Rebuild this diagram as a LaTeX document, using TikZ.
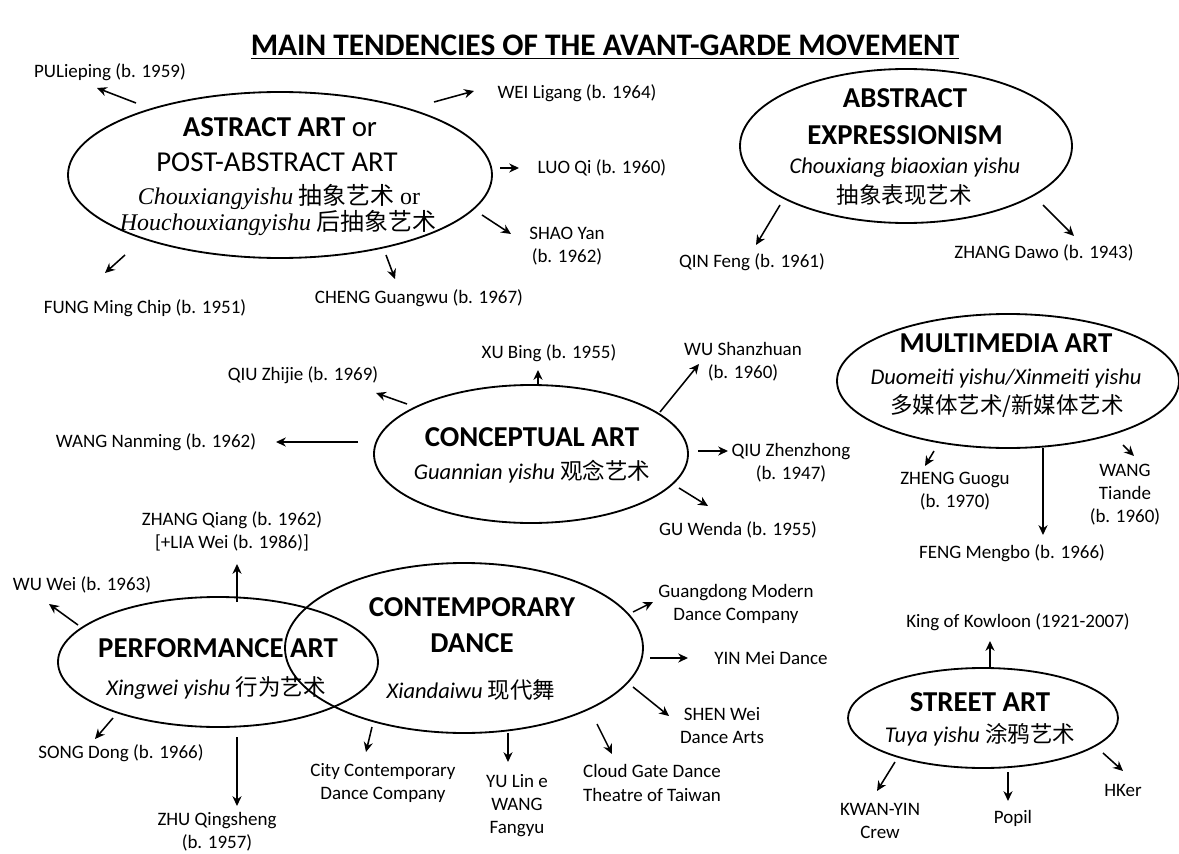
\documentclass[tikz,border=0pt]{standalone}
\usepackage{fontspec}
\setmainfont{Carlito}
\newfontfamily\cjk{Noto Sans CJK SC}
\newfontfamily\tms{Liberation Serif}
\usetikzlibrary{shapes.geometric,arrows.meta}
\begin{document}
\begin{tikzpicture}[x=0.025cm,y=-0.025cm,
  oval/.style={draw, ellipse, line width=1.3pt, inner sep=0pt, outer sep=0pt},
  lab/.style={font=\fontsize{13.5}{16.4}\selectfont, align=center, inner sep=0pt},
  big/.style={font=\fontsize{20.5}{25}\selectfont\bfseries, inner sep=0pt},
  bigr/.style={font=\fontsize{20.5}{25}\selectfont, inner sep=0pt},
  sub/.style={font=\fontsize{16}{19}\selectfont, inner sep=0pt},
  tsub/.style={font=\fontsize{17}{19}\selectfont, inner sep=0pt},
  arr/.style={-{Stealth[length=7pt,width=6.5pt]}, line width=1.1pt}]
\useasboundingbox (0,0) rectangle (1179,854);
% title
\node[inner sep=0pt, font=\fontsize{22.3}{26}\selectfont\bfseries] (title) at (605,47) {\underline{MAIN TENDENCIES OF THE AVANT-GARDE MOVEMENT}};
% ellipses
\node[oval, minimum width=424*0.025cm, minimum height=166*0.025cm] (ast) at (280,175) {};
\node[oval, minimum width=332*0.025cm, minimum height=154*0.025cm] (abx) at (906,146) {};
\node[oval, minimum width=314*0.025cm, minimum height=138*0.025cm] (con) at (531,454) {};
\node[oval, minimum width=342*0.025cm, minimum height=134*0.025cm] (mm) at (1008,381) {};
\node[oval, minimum width=320*0.025cm, minimum height=130*0.025cm] (perf) at (218,662) {};
\node[oval, minimum width=358*0.025cm, minimum height=170*0.025cm] (cd) at (464,648) {};
\node[oval, minimum width=270*0.025cm, minimum height=100*0.025cm] (st) at (983,718) {};
% ellipse texts
\node[big] (ast1) at (280,127) {ASTRACT ART {\mdseries or}};
\node[bigr] (ast2) at (277,162) {POST-ABSTRACT ART};
\node[tsub] (ast3) at (279,197) {{\tms\itshape Chouxiangyishu} {\cjk 抽象艺术}{\tms\ or}};
\node[tsub] (ast4) at (278,223) {{\tms\itshape Houchouxiangyishu} {\cjk 后抽象艺术}};
\node[big] (abx1) at (905,98) {ABSTRACT};
\node[big] (abx2) at (905,135) {EXPRESSIONISM};
\node[sub] (abx3) at (905,168) {\itshape Chouxiang biaoxian yishu};
\node[sub] (abx4) at (904,195) {\cjk 抽象表现艺术};
\node[big] (con1) at (532,437) {CONCEPTUAL ART};
\node[sub] (con2) at (532,472) {{\itshape Guannian yishu} {\cjk 观念艺术}};
\node[big] (mm1) at (1006,343) {MULTIMEDIA ART};
\node[sub] (mm2) at (1006,378) {\itshape Duomeiti yishu/Xinmeiti yishu};
\node[sub] (mm3) at (1007,406) {\cjk 多媒体艺术/新媒体艺术};
\node[big] (perf1) at (218,648) {PERFORMANCE ART};
\node[sub] (perf2) at (216,688) {{\itshape Xingwei yishu} {\cjk 行为艺术}};
\node[big] (cd1) at (472,607) {CONTEMPORARY};
\node[big] (cd2) at (472,643) {DANCE};
\node[sub] (cd3) at (471,690) {{\itshape Xiandaiwu} {\cjk 现代舞}};
\node[big] (st1) at (980,702) {STREET ART};
\node[sub] (st2) at (980,735) {{\itshape Tuya yishu} {\cjk 涂鸦艺术}};
% labels
\node[lab] (pu) at (110,72) {PULieping (b. 1959)};
\node[lab] (wei) at (577,93) {WEI Ligang (b. 1964)};
\node[lab] (luo) at (602,168) {LUO Qi (b. 1960)};
\node[lab] (shao) at (567,246) {SHAO Yan\\(b. 1962)};
\node[lab] (cheng) at (419,298) {CHENG Guangwu (b. 1967)};
\node[lab] (fung) at (145,308) {FUNG Ming Chip (b. 1951)};
\node[lab] (qin) at (752,262) {QIN Feng (b. 1961)};
\node[lab] (zdawo) at (1044,253) {ZHANG Dawo (b. 1943)};
\node[lab] (xu) at (549,353) {XU Bing (b. 1955)};
\node[lab] (qzj) at (303,375) {QIU Zhijie (b. 1969)};
\node[lab] (wnm) at (156,442) {WANG Nanming (b. 1962)};
\node[lab] (wsz) at (743,362) {WU Shanzhuan\\(b. 1960)};
\node[lab] (qzz) at (791,463) {QIU Zhenzhong\\(b. 1947)};
\node[lab] (gu) at (738,530) {GU Wenda (b. 1955)};
\node[lab] (zheng) at (955,491) {ZHENG Guogu\\(b. 1970)};
\node[lab] (wtd) at (1125,495) {WANG\\Tiande\\(b. 1960)};
\node[lab] (feng) at (1012,553) {FENG Mengbo (b. 1966)};
\node[lab] (zq) at (232,531) {ZHANG Qiang (b. 1962)\\{}[+LIA Wei (b. 1986)]};
\node[lab] (wuwei) at (82,585) {WU Wei (b. 1963)};
\node[lab] (song) at (121,753) {SONG Dong (b. 1966)};
\node[lab] (zhu) at (217,832) {ZHU Qingsheng\\(b. 1957)};
\node[lab] (gd) at (736,604) {Guangdong Modern\\Dance Company};
\node[lab] (yin) at (771,658) {YIN Mei Dance};
\node[lab] (shen) at (722,726) {SHEN Wei\\Dance Arts};
\node[lab] (cloud) at (652,783) {Cloud Gate Dance\\Theatre of Taiwan};
\node[lab] (yu) at (517,806) {YU Lin e\\WANG\\Fangyu};
\node[lab] (city) at (383,783) {City Contemporary\\Dance Company};
\node[lab] (king) at (1018,622) {King of Kowloon (1921-2007)};
\node[lab] (kwan) at (880,821) {KWAN-YIN\\Crew};
\node[lab] (popil) at (1013,818) {Popil};
\node[lab] (hker) at (1123,790) {HKer};
% arrow end points
\coordinate (a1s) at (136,103); \coordinate (a1e) at (97,88);
\coordinate (a2s) at (434,102); \coordinate (a2e) at (474,91);
\coordinate (a3s) at (500,168); \coordinate (a3e) at (519,168);
\coordinate (a4s) at (482,215); \coordinate (a4e) at (511,234);
\coordinate (a5s) at (386,255); \coordinate (a5e) at (395,279);
\coordinate (a6s) at (125,255); \coordinate (a6e) at (105,273);
\coordinate (b1s) at (780,205); \coordinate (b1e) at (756,245);
\coordinate (b2s) at (1043,205); \coordinate (b2e) at (1074,236);
\coordinate (c1s) at (538,384); \coordinate (c1e) at (538,370);
\coordinate (c2s) at (407,404); \coordinate (c2e) at (376,393);
\coordinate (c3s) at (358,442); \coordinate (c3e) at (276,442);
\coordinate (c4s) at (660,412); \coordinate (c4e) at (699,364);
\coordinate (c5s) at (698,451); \coordinate (c5e) at (728,451);
\coordinate (c6s) at (679,488); \coordinate (c6e) at (708,506);
\coordinate (m1s) at (934,451); \coordinate (m1e) at (925,466);
\coordinate (m2s) at (1123,445); \coordinate (m2e) at (1134,456);
\coordinate (m3s) at (1043,448); \coordinate (m3e) at (1043,535);
\coordinate (p1s) at (237,602); \coordinate (p1e) at (237,564);
\coordinate (p2s) at (78,625); \coordinate (p2e) at (49,604);
\coordinate (p3s) at (113,718); \coordinate (p3e) at (95,739);
\coordinate (p4s) at (237,737); \coordinate (p4e) at (237,806);
\coordinate (d1s) at (633,612); \coordinate (d1e) at (653,602);
\coordinate (d2s) at (650,658); \coordinate (d2e) at (688,658);
\coordinate (d3s) at (633,687); \coordinate (d3e) at (669,716);
\coordinate (d4s) at (597,724); \coordinate (d4e) at (612,754);
\coordinate (d5s) at (508,733); \coordinate (d5e) at (508,762);
\coordinate (d6s) at (372,727); \coordinate (d6e) at (366,752);
\coordinate (s1s) at (990,668); \coordinate (s1e) at (990,641);
\coordinate (s2s) at (895,762); \coordinate (s2e) at (877,791);
\coordinate (s3s) at (1008,772); \coordinate (s3e) at (1008,801);
\coordinate (s4s) at (1103,753); \coordinate (s4e) at (1123,771);
% arrows
\foreach \a in {a1,a2,a3,a4,a5,a6,b1,b2,c1,c2,c3,c4,c5,c6,m1,m2,m3,p1,p2,p3,p4,d1,d2,d3,d4,d5,d6,s1,s2,s3,s4}
  \draw[arr] (\a s) -- (\a e);
\end{tikzpicture}
\end{document}
